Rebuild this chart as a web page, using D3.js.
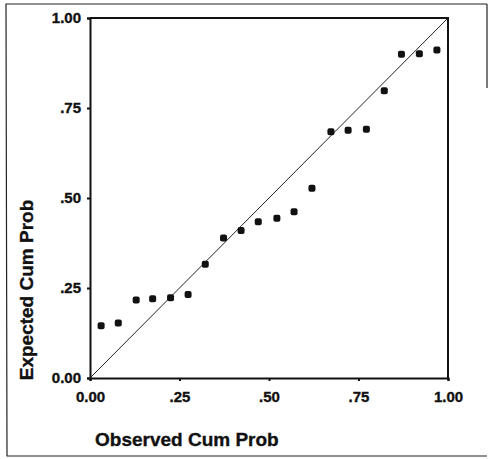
<!DOCTYPE html>
<html>
<head>
<meta charset="utf-8">
<script src="https://cdn.jsdelivr.net/npm/d3@7"></script>
<style>
  body { margin: 0; background: #fff; }
  text { font-family: "Liberation Sans", Arial, sans-serif; font-weight: bold; fill: #111; stroke: #111; stroke-width: 0.35; }
</style>
</head>
<body>
<div id="pp_plot"></div>
<script>
// observed vs expected cumulative probabilities
var observed = [0.031, 0.079, 0.129, 0.175, 0.225, 0.274, 0.322, 0.373, 0.422, 0.470,
                0.522, 0.570, 0.620, 0.673, 0.721, 0.772, 0.822, 0.870, 0.920, 0.969];
var expected = [0.145, 0.153, 0.217, 0.220, 0.223, 0.232, 0.316, 0.389, 0.410, 0.434,
                0.444, 0.462, 0.527, 0.684, 0.688, 0.691, 0.798, 0.899, 0.901, 0.911];
var tickValues = [0, 0.25, 0.5, 0.75, 1];
var tickLabels = ["0.00", ".25", ".50", ".75", "1.00"];

var margin = { top: 18, right: 41, bottom: 81, left: 90 };
var width = 489, height = 459;
var p_width = width - margin.left - margin.right;
var p_height = height - margin.top - margin.bottom;

var svg = d3.select("#pp_plot")
    .append("svg")
    .attr("width", width)
    .attr("height", height);

// outer frame (right side only partly visible in the scan)
svg.append("path")
    .attr("d", "M487,4 L6,4 L7,456 L487,456 M487,4 L487,88")
    .attr("fill", "none")
    .attr("stroke", "#222")
    .attr("stroke-width", 1.2);

var g = svg.append("g")
    .attr("transform", "translate(" + margin.left + "," + margin.top + ")");

var x = d3.scaleLinear().domain([0, 1]).range([0, p_width]);
var y = d3.scaleLinear().domain([0, 1]).range([p_height, 0]);

var fmt = function (d) { return tickLabels[tickValues.indexOf(d)]; };

// X axis
var xAxis = g.append("g")
    .attr("transform", "translate(0," + p_height + ")")
    .call(d3.axisBottom(x).tickValues(tickValues).tickFormat(fmt).tickSize(3).tickPadding(10));

// Y axis
var yAxis = g.append("g")
    .call(d3.axisLeft(y).tickValues(tickValues).tickFormat(fmt).tickSize(3).tickPadding(6));

[xAxis, yAxis].forEach(function (a) {
    a.select(".domain").attr("stroke", "#111").attr("stroke-width", 2);
    a.selectAll(".tick line").attr("stroke", "#111").attr("stroke-width", 2);
    a.selectAll(".tick text").style("font-size", "15px").attr("fill", "#111");
});

// top and right border of plot
g.append("path")
    .attr("d", "M0,0 L" + p_width + ",0 L" + p_width + "," + p_height)
    .attr("fill", "none")
    .attr("stroke", "#111")
    .attr("stroke-width", 2);

// reference diagonal
g.append("line")
    .attr("x1", x(0)).attr("y1", y(0))
    .attr("x2", x(1)).attr("y2", y(1))
    .attr("stroke", "#222")
    .attr("stroke-width", 1);

// points
var pts = observed.map(function (d, i) { return { o: d, e: expected[i] }; });
g.selectAll("rect.pt")
    .data(pts)
    .enter()
    .append("rect")
    .attr("class", "pt")
    .attr("x", function (d) { return x(d.o) - 3.5; })
    .attr("y", function (d) { return y(d.e) - 3.5; })
    .attr("width", 7)
    .attr("height", 7)
    .attr("rx", 2)
    .attr("fill", "#111");

// axis labels
svg.append("text")
    .attr("x", 95)
    .attr("y", 446)
    .style("font-size", "19px")
    .text("Observed Cum Prob");

svg.append("text")
    .attr("transform", "translate(33,290) rotate(-90)")
    .attr("text-anchor", "middle")
    .style("font-size", "19px")
    .text("Expected Cum Prob");
</script>
</body>
</html>
